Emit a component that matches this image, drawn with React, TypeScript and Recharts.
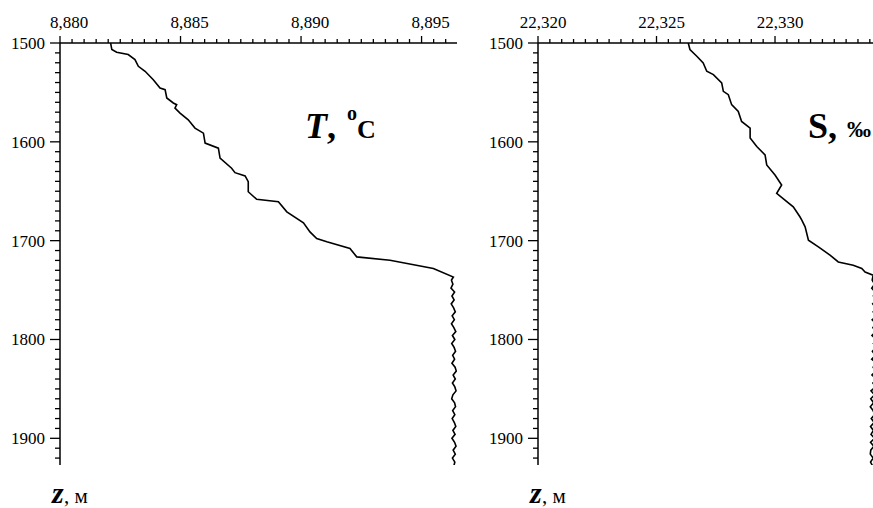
import React from 'react';
import { ScatterChart, Scatter, XAxis, YAxis } from 'recharts';

// ---------- data ----------
const T_DEPTH = [
  1500, 1506.6, 1509.3, 1511.7, 1516.8, 1523.6, 1528.6, 1537.1, 1545.5, 1547.2,
  1555.6, 1560.7, 1562.4, 1565.8, 1570.9, 1577.7, 1586.1, 1591.2, 1601.3, 1606.4,
  1616.5, 1626.7, 1631.2, 1634.5, 1640.3, 1650.5, 1658.2, 1660.6, 1670.8, 1681.9,
  1691.1, 1697.8, 1701.2, 1707.9, 1716.4, 1719.8, 1728.2, 1736.8,
  1740, 1744, 1748, 1752, 1756, 1760, 1764, 1768, 1772, 1776, 1780, 1784, 1788, 1792,
  1796, 1800, 1804, 1808, 1812, 1816, 1820, 1824, 1828, 1832, 1836, 1840, 1844, 1848,
  1852, 1856, 1860, 1864, 1868, 1872, 1876, 1880, 1884, 1888, 1892, 1896, 1900, 1904,
  1908, 1912, 1916, 1920, 1924, 1928,
];
const T_VALUE = [
  8.8821, 8.88215, 8.88235, 8.88283, 8.88311, 8.88325, 8.88353, 8.88387, 8.88415, 8.88436,
  8.88443, 8.8847, 8.88484, 8.88477, 8.88498, 8.88532, 8.8856, 8.88595, 8.88602, 8.88657,
  8.88664, 8.88712, 8.88726, 8.88768, 8.88781, 8.88781, 8.88816, 8.88906, 8.88941, 8.8901,
  8.89037, 8.89065, 8.89107, 8.89203, 8.89231, 8.89369, 8.89549, 8.89632,
  8.89624, 8.8963, 8.89622, 8.89637, 8.89626, 8.89635, 8.89623, 8.89633, 8.8964, 8.89627,
  8.89636, 8.89624, 8.89634, 8.89642, 8.89628, 8.89638, 8.89625, 8.89635, 8.89641, 8.89629,
  8.89637, 8.89626, 8.89639, 8.89644, 8.89631, 8.8964, 8.89628, 8.89638, 8.89643, 8.8963,
  8.89625, 8.89637, 8.89641, 8.89629, 8.89638, 8.89627, 8.89636, 8.89642, 8.8963, 8.89639,
  8.89626, 8.89637, 8.89643, 8.89631, 8.8964, 8.89628, 8.89638, 8.89634,
];

const S_DEPTH = [
  1500, 1506.6, 1513.4, 1520.1, 1528.6, 1532.0, 1540.4, 1548.9, 1552.3, 1562.4,
  1569.2, 1579.4, 1586.1, 1596.2, 1604.8, 1613.2, 1623.4, 1633.5, 1643.7, 1652.1,
  1658.9, 1665.7, 1675.8, 1679.2, 1686.0, 1699.5, 1706.3, 1714.7, 1721.5, 1724.9,
  1728.2, 1731.7, 1735.0,
  1740, 1744, 1748, 1752, 1756, 1760, 1764, 1768, 1772, 1776, 1780, 1784, 1788, 1792,
  1796, 1800, 1804, 1808, 1812, 1816, 1820, 1824, 1828, 1832, 1836, 1840, 1844, 1848,
  1852, 1856, 1860, 1864, 1868, 1872, 1876, 1880, 1884, 1888, 1892, 1896, 1900, 1904,
  1908, 1912, 1916, 1920, 1924, 1928,
];
const S_VALUE = [
  22.32634, 22.32641, 22.3267, 22.32697, 22.32712, 22.3274, 22.32775, 22.32782, 22.32803, 22.32817,
  22.32845, 22.32859, 22.32895, 22.32895, 22.32923, 22.32958, 22.32965, 22.33, 22.33028, 22.33007,
  22.33042, 22.33077, 22.33105, 22.33113, 22.33127, 22.33141, 22.33183, 22.33232, 22.33267, 22.3333,
  22.33366, 22.3338, 22.33414,
  22.3341, 22.3342, 22.33408, 22.33422, 22.33415, 22.33428, 22.33412, 22.33426, 22.33414, 22.3343,
  22.3341, 22.33426, 22.33413, 22.33424, 22.33409, 22.33429, 22.33415, 22.33427, 22.33411, 22.33423,
  22.33408, 22.3343, 22.33414, 22.33425, 22.33409, 22.33428, 22.33413, 22.33424, 22.33405, 22.3342,
  22.33404, 22.33416, 22.33402, 22.33414, 22.3342, 22.33406, 22.33418, 22.33403, 22.33415, 22.33405,
  22.3342, 22.33403, 22.33417, 22.33404, 22.33402, 22.33414, 22.33403, 22.33412,
];

// tick marks (major = long tick) and the tick labels visible in the picture
const T_MAJOR = [8.88, 8.885, 8.89, 8.895];
const T_LABELS = ['8,880', '8,885', '8,890', '8,895'];
const S_MAJOR = [22.32, 22.325, 22.33, 22.335];
const S_LABELS = ['22,320', '22,325', '22,330', ''];
const Z_MAJOR = [1500, 1600, 1700, 1800, 1900];
const Z_LABELS = ['1500', '1600', '1700', '1800', '1900'];

const T_DOMAIN: [number, number] = [8.88, 8.89647];
const S_DOMAIN: [number, number] = [22.32, 22.33675];
const Z_DOMAIN: [number, number] = [1500, 1927];

const tData = T_DEPTH.map((z, i) => ({ z, v: T_VALUE[i] }));
const sData = S_DEPTH.map((z, i) => ({ z, v: S_VALUE[i] }));

const minorTicks = (start: number, end: number, step: number) => {
  const out: number[] = [];
  for (let i = 0; start + i * step <= end + 1e-9; i++) {
    out.push(Math.round((start + i * step) * 100000) / 100000);
  }
  return out;
};

const T_TICKS = minorTicks(T_DOMAIN[0], T_DOMAIN[1], 0.0005);
const S_TICKS = minorTicks(S_DOMAIN[0], S_DOMAIN[1], 0.0005);
const Z_TICKS = minorTicks(1500, 1920, 10);

const FONT = "'Liberation Serif', 'DejaVu Serif', serif";

const majorIndex = (majors: number[], v: number) => majors.findIndex((m) => Math.abs(m - v) < 1e-7);

const makeTopTick = (majors: number[], labels: string[], dx: number) => (props: any) => {
  const { x, y, payload } = props;
  const idx = majorIndex(majors, payload.value);
  const major = idx >= 0;
  return (
    <g>
      <line x1={x} x2={x} y1={y} y2={y - (major ? 7 : 4)} stroke="#000" strokeWidth={1.3} />
      {major && labels[idx] && (
        <text
          x={x + dx}
          y={y - 15}
          textAnchor="middle"
          style={{ fontFamily: FONT, fontSize: 17 }}
          fill="#000"
        >
          {labels[idx]}
        </text>
      )}
    </g>
  );
};

const LeftTick = (props: any) => {
  const { x, y, payload } = props;
  const idx = majorIndex(Z_MAJOR, payload.value);
  const major = idx >= 0;
  return (
    <g>
      <line x1={x} x2={x - (major ? 10 : 5)} y1={y} y2={y} stroke="#000" strokeWidth={1.3} />
      {major && (
        <text
          x={x - 15}
          y={y}
          dy="0.35em"
          textAnchor="end"
          style={{ fontFamily: FONT, fontSize: 17 }}
          fill="#000"
        >
          {Z_LABELS[idx]}
        </text>
      )}
    </g>
  );
};

const NoDot = () => <g />;

const Panel = ({ data, domain, ticks, majors, labels, dx }: any) => (
  <ScatterChart width={500} height={508} margin={{ top: 0, right: 43, bottom: 43, left: 0 }}>
    <XAxis
      type="number"
      dataKey="v"
      orientation="top"
      domain={domain}
      ticks={ticks}
      interval={0}
      allowDataOverflow
      height={43}
      tickSize={0}
      tickMargin={0}
      tickLine={false}
      axisLine={{ stroke: '#000', strokeWidth: 1.5 }}
      tick={makeTopTick(majors, labels, dx)}
    />
    <YAxis
      type="number"
      dataKey="z"
      domain={Z_DOMAIN}
      reversed
      ticks={Z_TICKS}
      interval={0}
      allowDataOverflow
      width={60}
      tickSize={0}
      tickMargin={0}
      tickLine={false}
      axisLine={{ stroke: '#000', strokeWidth: 1.5 }}
      tick={LeftTick}
    />
    <Scatter
      data={data}
      line={{ stroke: '#000', strokeWidth: 1.6 }}
      lineType="joint"
      shape={NoDot}
      isAnimationActive={false}
    />
  </ScatterChart>
);

export default function App() {
  return (
    <div
      style={{
        position: 'fixed',
        left: 0,
        top: 0,
        width: 873,
        height: 508,
        overflow: 'hidden',
        background: '#fff',
        fontFamily: FONT,
      }}
    >
      <div style={{ position: 'absolute', left: 0, top: 0 }}>
        <Panel data={tData} domain={T_DOMAIN} ticks={T_TICKS} majors={T_MAJOR} labels={T_LABELS} dx={9} />
      </div>
      <div style={{ position: 'absolute', left: 478, top: 0 }}>
        <Panel data={sData} domain={S_DOMAIN} ticks={S_TICKS} majors={S_MAJOR} labels={S_LABELS} dx={5} />
      </div>
      <svg
        width={873}
        height={508}
        style={{ position: 'absolute', left: 0, top: 0, pointerEvents: 'none', fontFamily: FONT }}
      >
        <g fill="#000" fontWeight="bold">
          <text x={305} y={138} fontSize={36} fontStyle="italic">T</text>
          <text x={327} y={138} fontSize={36}>,</text>
          <text x={347} y={120} fontSize={20}>o</text>
          <text x={357} y={138} fontSize={26}>C</text>

          <text x={808} y={138} fontSize={36}>S</text>
          <text x={828} y={138} fontSize={36}>,</text>
          <text x={847} y={137} fontSize={24}>‰</text>
        </g>
        <g fill="#000">
          <text x={52} y={503} fontSize={30} fontStyle="italic" fontWeight="bold">z</text>
          <text x={64} y={503} fontSize={21}>, м</text>
          <text x={530} y={503} fontSize={30} fontStyle="italic" fontWeight="bold">z</text>
          <text x={542} y={503} fontSize={21}>, м</text>
        </g>
      </svg>
    </div>
  );
}
